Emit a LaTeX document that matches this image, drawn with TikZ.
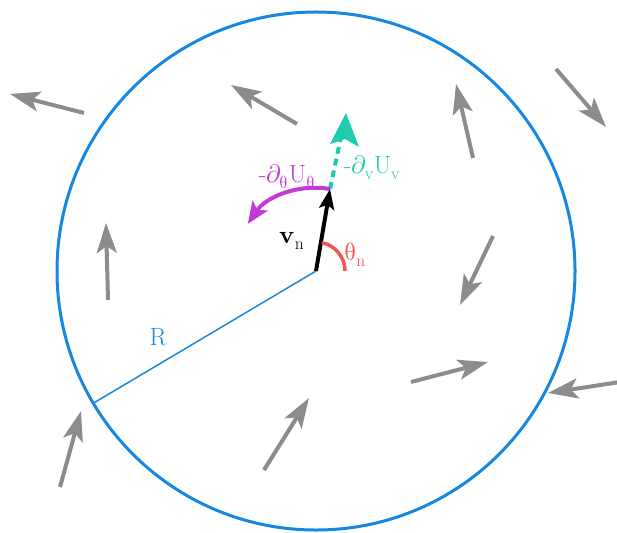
\documentclass[tikz,border=0pt]{standalone}
\usepackage{unicode-math}
\setmathfont{Latin Modern Math}
\usetikzlibrary{arrows.meta,calc}
\definecolor{cblue}{RGB}{22,136,226}
\definecolor{cteal}{RGB}{32,204,176}
\definecolor{cmag}{RGB}{196,58,214}
\definecolor{cred}{RGB}{240,86,86}
\definecolor{cgray}{RGB}{140,140,140}
\begin{document}
\begin{tikzpicture}[x=1pt,y=-1pt,
  garrow/.style={draw=cgray,line width=4pt,-{Stealth[length=30pt,width=20pt,inset=7pt]}},
  lbl/.style={font=\fontsize{25}{28}\selectfont,inner sep=0pt}]
\useasboundingbox (0,0) rectangle (617,532);
\coordinate (O) at (316,271);
\draw[cblue,line width=3pt] (O) circle[radius=259];
\coordinate (Rend) at (92,404);
\draw[cblue,line width=1.5pt] (O) -- (Rend);
\node[lbl,text=cblue] (R) at (158,337) {$\mathrm{R}$};
% gray arrows
\foreach \i/\ax/\ay/\bx/\by in {1/84/113/10/94, 2/297/124/231/85, 3/473/158/456/84, 4/556/69/606/127,
  5/108/300/106/223, 6/493/236/460/305, 7/411/382/488/362, 8/620/382/548/393,
  9/60/487/81/411, 10/264/470/309/398}{
  \coordinate (t\i) at (\ax,\ay);
  \coordinate (h\i) at (\bx,\by);
  \draw[garrow] (t\i) -- (h\i);
}
% vectors
\coordinate (V) at (330,189);
\coordinate (T) at (346,113);
\draw[cteal,line width=4pt,dash pattern=on 7pt off 5pt] (V) -- ($(V)!0.72!(T)$);
\path[fill=cteal] (T) -- ++(-16,31) -- ++(15,-5) -- ++(14,8) -- cycle;
\draw[cmag,line width=4pt,-{Stealth[length=22pt,width=18pt,inset=5pt]}] (V) arc[start angle=-80,end angle=-146,radius=82];
\draw[black,line width=4pt,-{Stealth[length=20pt,width=15pt,inset=4pt]}] (O) -- (V);
\draw[cred,line width=3.5pt] ([shift={(-78:29)}]O) arc[start angle=-78,end angle=0,radius=29];
\node[lbl,text=cmag] (Lth) at (287,177) {$\textrm{-}\partial_{\symup{\theta}} \mathrm{U}_{\symup{\theta}}$};
\node[lbl,text=cteal] (Lv) at (372,168) {$\textrm{-}\partial_{\mathrm{v}} \mathrm{U}_{\mathrm{v}}$};
\node[lbl,text=black] (Lvn) at (292,241) {$\symbf{v}_{\mathrm{n}}$};
\node[lbl,text=cred] (Ltn) at (355,255) {$\symup{\theta}_{\mathrm{n}}$};
\end{tikzpicture}
\end{document}
